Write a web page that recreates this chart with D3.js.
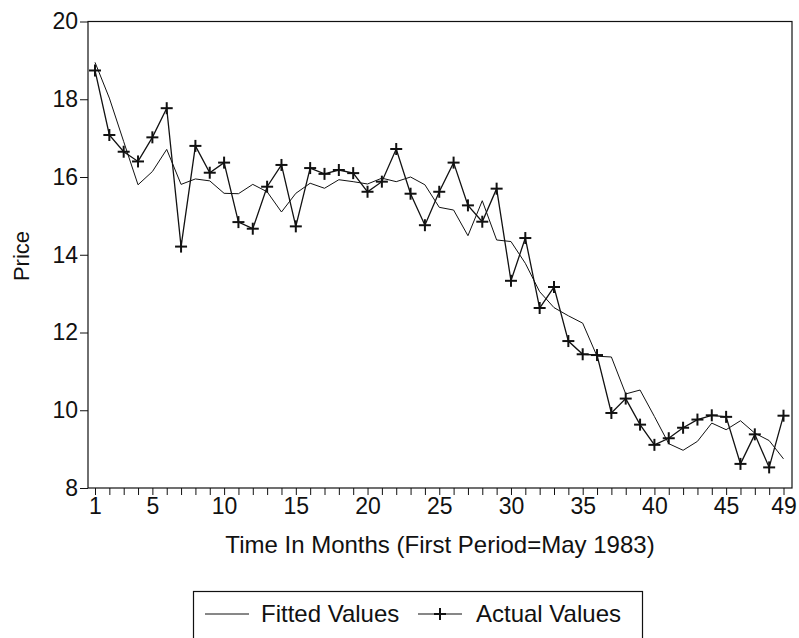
<!DOCTYPE html>
<html><head><meta charset="utf-8">
<script src="https://cdn.jsdelivr.net/npm/d3@7"></script>
<style>body{margin:0;background:#fff}text{font-family:"Liberation Sans",Arial,Helvetica,sans-serif;fill:#111}</style>
</head><body>
<svg id="c" width="799" height="638"></svg>
<script>
const months = d3.range(1, 50);
const actualValues = [18.74,17.08,16.65,16.40,17.02,17.77,14.21,16.80,16.11,16.37,
  14.84,14.67,15.75,16.31,14.73,16.23,16.08,16.18,16.10,15.62,
  15.88,16.72,15.57,14.76,15.62,16.37,15.27,14.85,15.70,13.33,
  14.43,12.63,13.17,11.78,11.44,11.42,9.93,10.30,9.63,9.11,
  9.28,9.55,9.76,9.87,9.83,8.62,9.38,8.53,9.86];
const fittedValues = [18.95,18.03,16.91,15.80,16.14,16.71,15.81,15.95,15.90,15.58,
  15.57,15.81,15.62,15.10,15.58,15.84,15.71,15.93,15.88,15.82,
  15.97,15.88,16.00,15.80,15.22,15.15,14.49,15.39,14.38,14.34,
  13.78,13.05,12.64,12.43,12.24,11.39,11.37,10.42,10.52,9.84,
  9.14,8.97,9.20,9.67,9.50,9.73,9.41,9.22,8.75];
const xTickLabels = [1,5,10,15,20,25,30,35,40,45,49];
const yTickLabels = [8,10,12,14,16,18,20];
const seriesNames = ["Fitted Values","Actual Values"];
const xTitle = "Time In Months (First Period=May 1983)";
const yTitle = "Price";

const svg = d3.select("#c");
const L = 88, R = 792, T = 21.5, B = 488;
const x = d3.scaleLinear().domain([1, 49]).range([95, 783.5]);
const y = d3.scaleLinear().domain([8, 20]).range([B, T]);
const ink = "#111";

// frame
svg.append("rect").attr("x", L).attr("y", T).attr("width", R - L).attr("height", B - T)
  .attr("fill", "none").attr("stroke", ink).attr("stroke-width", 1.2);

// x axis
const xAxis = d3.axisBottom(x).tickValues(months).tickSize(7).tickPadding(3)
  .tickFormat(d => xTickLabels.includes(d) ? d : "");
const gx = svg.append("g").attr("transform", `translate(0,${B})`).call(xAxis);
gx.select(".domain").remove();
gx.selectAll("line").attr("stroke", ink).attr("stroke-width", 1);
gx.selectAll("text").attr("font-size", 23).style("font-family", "Liberation Sans, Arial, sans-serif").attr("fill", ink);

// y axis
const yAxis = d3.axisLeft(y).tickValues(yTickLabels).tickSize(8).tickPadding(2);
const gy = svg.append("g").attr("transform", `translate(${L},0)`).call(yAxis);
gy.select(".domain").remove();
gy.selectAll("line").attr("stroke", ink).attr("stroke-width", 1);
gy.selectAll("text").attr("font-size", 23).style("font-family", "Liberation Sans, Arial, sans-serif").attr("fill", ink);

// titles
svg.append("text").attr("x", 440).attr("y", 553).attr("text-anchor", "middle")
  .attr("font-size", 24).text(xTitle);
svg.append("text").attr("transform", "translate(29,256) rotate(-90)").attr("text-anchor", "middle")
  .attr("font-size", 22).text(yTitle);

// lines
const lineGen = d3.line().x((d, i) => x(months[i])).y(d => y(d));
svg.append("path").datum(fittedValues).attr("d", lineGen).attr("fill", "none")
  .attr("stroke", ink).attr("stroke-width", 1);
svg.append("path").datum(actualValues).attr("d", lineGen).attr("fill", "none")
  .attr("stroke", ink).attr("stroke-width", 1.3);

const plus = (g, cx, cy, s) => {
  g.append("line").attr("x1", cx - s).attr("x2", cx + s).attr("y1", cy).attr("y2", cy);
  g.append("line").attr("x1", cx).attr("x2", cx).attr("y1", cy - s).attr("y2", cy + s);
};
const gm = svg.append("g").attr("stroke", ink).attr("stroke-width", 2);
actualValues.forEach((v, i) => plus(gm, x(months[i]), y(v), 6));

// legend
svg.append("rect").attr("x", 193.5).attr("y", 591.5).attr("width", 449).attr("height", 70)
  .attr("fill", "none").attr("stroke", ink).attr("stroke-width", 1.2);
const ly = 614;
svg.append("line").attr("x1", 205).attr("x2", 249).attr("y1", ly).attr("y2", ly).attr("stroke", ink).attr("stroke-width", 1);
svg.append("text").attr("x", 261).attr("y", ly + 8).attr("font-size", 24).text(seriesNames[0]);
svg.append("line").attr("x1", 418).attr("x2", 462).attr("y1", ly).attr("y2", ly).attr("stroke", ink).attr("stroke-width", 1.2);
const lg = svg.append("g").attr("stroke", ink).attr("stroke-width", 2);
plus(lg, 440, ly, 6);
svg.append("text").attr("x", 476).attr("y", ly + 8).attr("font-size", 24).text(seriesNames[1]);
</script>
</body></html>
